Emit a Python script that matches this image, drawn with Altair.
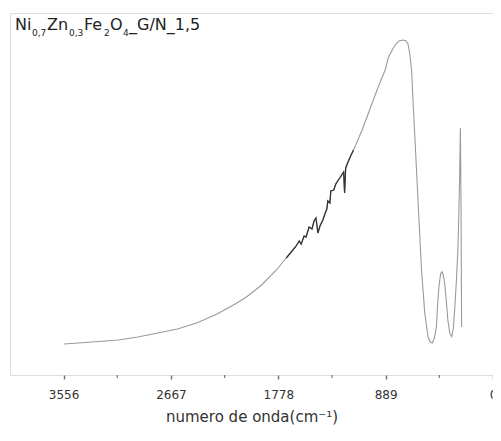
import altair as alt
import pandas as pd

# Wavenumber (cm^-1) and transmittance (arbitrary %)
wavenumber = [3555, 3432, 3268, 3104, 2940, 2776, 2613, 2449, 2285, 2121,
              2039, 1916, 1794, 1712, 1671, 1630, 1605, 1589, 1564, 1548,
              1523, 1499, 1482, 1466, 1450, 1433, 1409, 1392, 1376, 1368,
              1351, 1343, 1319, 1302, 1286, 1269, 1253, 1237, 1229, 1220,
              1204, 1179, 1155, 1084, 1016, 950, 893, 868, 844, 811,
              778, 745, 721, 704, 688, 674, 663, 647, 620, 592,
              565, 538, 520, 502, 483, 469, 459, 448, 434, 423,
              412, 401, 387, 374, 358, 342, 328, 314, 303, 292,
              284, 278, 270, 265, 260]
transmittance = [8.56, 8.84, 9.25, 9.67, 10.50, 11.60, 12.71, 14.45, 16.85, 19.89,
                 21.63, 24.86, 29.01, 32.32, 33.98, 35.64, 37.02, 36.19, 38.40, 38.12,
                 40.88, 40.33, 42.54, 43.37, 39.23, 41.16, 42.82, 44.48, 45.86, 48.07,
                 47.51, 50.83, 51.10, 52.76, 53.59, 54.42, 55.25, 56.08, 50.28, 57.18,
                 58.56, 60.50, 62.15, 67.68, 73.76, 79.64, 84.25, 87.57, 89.23, 91.16,
                 92.27, 92.54, 92.27, 91.44, 88.40, 84.25, 75.97, 65.75, 47.51, 29.01,
                 17.13, 10.50, 9.12, 8.84, 10.50, 13.26, 19.34, 24.31, 27.90, 28.54,
                 27.62, 25.41, 20.72, 15.19, 11.60, 10.58, 12.98, 19.89, 26.24, 33.70,
                 42.82, 51.93, 68.23, 48.34, 13.26]

tick_values = [3556, 2667, 1778, 889, 0]
minor_ticks = [3111.5, 2222.5, 1333.5, 444.5]
x_title = "numero de onda(cm⁻¹)"

df = pd.DataFrame({"idx": range(len(wavenumber)), "wn": wavenumber, "T": transmittance})
minor_df = pd.DataFrame({"wn": minor_ticks})

W, H = 483, 362
FONT = "DejaVu Sans"

xscale = alt.Scale(domain=[4000, 0], nice=False, zero=False)
yscale = alt.Scale(domain=[0, 100], nice=False, zero=False)

xaxis = alt.Axis(values=tick_values, format="d", title=x_title, domain=False, grid=False,
                 tickSize=4, tickWidth=1.5, tickColor="#777",
                 labelFont=FONT, labelFontSize=12, labelColor="#333",
                 labelPadding=10, labelFlush=False,
                 titleFont=FONT, titleFontSize=15, titleFontWeight="normal",
                 titleColor="#333", titlePadding=9)

base = alt.Chart(df)

line = base.mark_line(color="#9a9a9a", strokeWidth=1.1).encode(
    x=alt.X("wn:Q", scale=xscale, axis=xaxis),
    y=alt.Y("T:Q", scale=yscale, axis=None),
    order="idx:Q",
)

noisy = base.transform_filter(
    (alt.datum.idx >= 13) & (alt.datum.idx <= 42)
).mark_line(color="#333333", strokeWidth=1.3).encode(
    x=alt.X("wn:Q", scale=xscale),
    y=alt.Y("T:Q", scale=yscale),
    order="idx:Q",
)

minor = alt.Chart(minor_df).mark_rule(color="#777", strokeWidth=1.2).encode(
    x=alt.X("wn:Q", scale=xscale),
    y=alt.value(H),
    y2=alt.value(H + 3),
)

def piece(txt, x, y, size):
    return alt.Chart(pd.DataFrame({"t": [txt]})).mark_text(
        align="left", baseline="alphabetic", font=FONT, fontSize=size,
        color="#222"
    ).encode(text="t:N", x=alt.value(x), y=alt.value(y))

label_parts = [
    piece("Ni", 5, 17, 16),
    piece("0,7", 22, 23, 9),
    piece("Zn", 37, 17, 16),
    piece("0,3", 59, 23, 9),
    piece("Fe", 74, 17, 16),
    piece("2", 94, 23, 9),
    piece("O", 100, 17, 16),
    piece("4", 113, 23, 9),
    piece("_G/N_1,5", 119, 17, 16),
]

chart = alt.layer(line, noisy, minor, *label_parts).properties(
    width=W, height=H,
    autosize=alt.AutoSizeParams(type="none"),
    padding={"left": 2, "top": 5, "right": 0, "bottom": 50},
).configure_view(stroke="#8a8a8a", strokeWidth=2.5).configure(background="white")

chart.save("out.html", embed_options={"renderer": "svg", "actions": False})
